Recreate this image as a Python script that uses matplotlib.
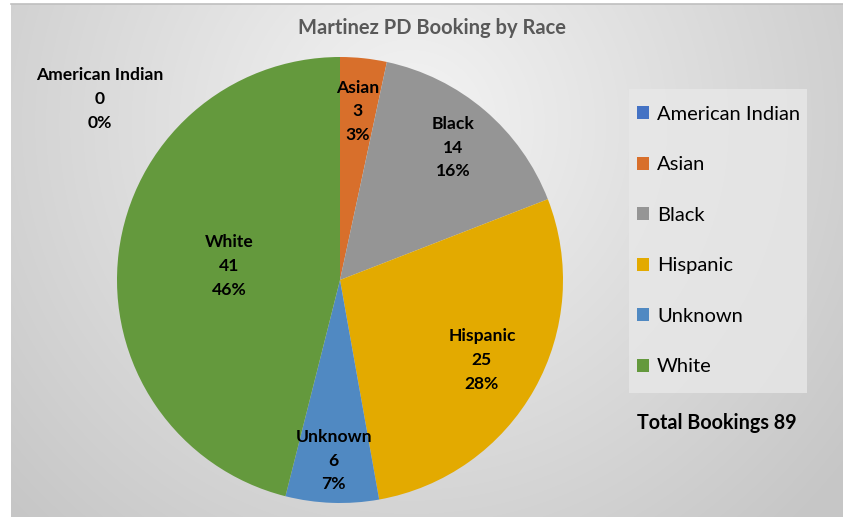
import numpy as np
import matplotlib
matplotlib.use("Agg")
import matplotlib.pyplot as plt
from matplotlib.colors import LinearSegmentedColormap
from matplotlib.patches import Rectangle

categories = ["American Indian", "Asian", "Black", "Hispanic", "Unknown", "White"]
counts = [0, 3, 14, 25, 6, 41]
colors = ["#4472C4", "#D86F2B", "#959595", "#E3AA00", "#5089C2", "#64993D"]
title = "Martinez PD Booking by Race"
total_label = "Total Bookings"

plt.rcParams['font.family'] = ['Lato', 'DejaVu Sans']

W, H = 843, 517
fig = plt.figure(figsize=(W / 100, H / 100), dpi=100)
fig.patch.set_facecolor("white")

# background gradient panel
bg = fig.add_axes([11 / W, 0, 1 - 11 / W, 513 / H])
bg.set_axis_off()
yy, xx = np.mgrid[0:513, 0:832]
cx, cy = 400, 120
d = np.sqrt((xx - cx) ** 2 + (yy - cy) ** 2) / 560.0
d = np.clip(d, 0, 1)
cmap = LinearSegmentedColormap.from_list("g", ["#f4f4f4", "#c6c6c6"])
bg.imshow(d, cmap=cmap, aspect="auto", extent=[0, 1, 0, 1], origin="upper", vmin=0, vmax=1)
bg.plot([0, 1], [1, 1], color="#bfbfbf", lw=1.2, transform=bg.transAxes, clip_on=False)

# legend box
fig.patches.append(Rectangle((629 / W, 1 - 393 / H), (807 - 629) / W, (393 - 89) / H,
                             transform=fig.transFigure, facecolor="#e8e8e8",
                             edgecolor="none", alpha=0.8, zorder=1))

# pie
pcx, pcy, r = 340, H - 280, 223
ax = fig.add_axes([(pcx - r) / W, (pcy - r) / H, 2 * r / W, 2 * r / H])
ax.set_axis_off()
wedges, _ = ax.pie(counts, colors=colors, startangle=90, counterclock=False,
                   radius=1.0, wedgeprops=dict(linewidth=0))
ax.set_xlim(-1, 1)
ax.set_ylim(-1, 1)

total = sum(counts)
label_r = [None, 0.76, 0.78, 0.73, 0.81, 0.50]
fs = 12.6
ls = 1.6
cum = 0
for i, (cat, v) in enumerate(zip(categories, counts)):
    mid = (cum + v / 2) / total * 360
    cum += v
    pct = f"{round(100 * v / total):d}%"
    txt = f"{cat}\n{v}\n{pct}"
    if label_r[i] is None:
        fig.text(100 / W, 1 - 99 / H, txt, ha="center", va="center", fontsize=fs,
                 fontweight="bold", color="#000000", linespacing=ls)
        continue
    a = np.deg2rad(90 - mid)
    ax.text(label_r[i] * np.cos(a), label_r[i] * np.sin(a), txt, ha="center", va="center",
            fontsize=fs, fontweight="bold", color="#000000", linespacing=ls)

fig.text(432 / W, 1 - 28 / H, title, ha="center", va="center", fontsize=14.5,
         fontweight="bold", color="#595959")

leg = fig.legend(wedges, categories, loc="upper left",
                 bbox_to_anchor=(637 / W, 1 - 106 / H), frameon=False,
                 fontsize=14.5, labelspacing=1.66, handlelength=0.62, handleheight=0.62,
                 handletextpad=0.38, borderpad=0, borderaxespad=0)

fig.text(637 / W, 1 - 423 / H, f"{total_label} {total}", ha="left", va="center",
         fontsize=14.2, fontweight="bold", color="#000000")

fig.savefig("out.png", dpi=100)
